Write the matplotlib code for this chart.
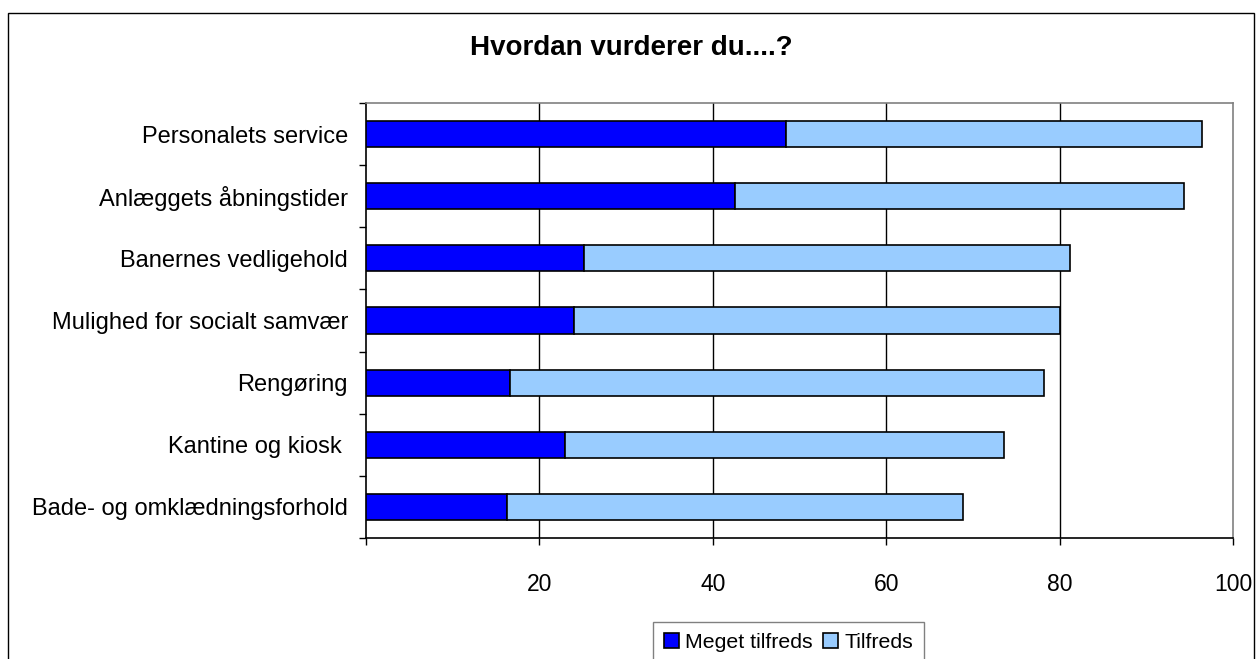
import matplotlib
matplotlib.use("Agg")
import matplotlib.pyplot as plt
from matplotlib.patches import Rectangle
from matplotlib.ticker import FixedLocator, NullFormatter

plt.rcParams['font.family'] = ['Liberation Sans', 'DejaVu Sans']

title = "Hvordan vurderer du....?"
categories = ["Personalets service", "Anlæggets åbningstider", "Banernes vedligehold",
              "Mulighed for socialt samvær", "Rengøring", "Kantine og kiosk ",
              "Bade- og omklædningsforhold"]
meget_tilfreds = [48.4, 42.6, 25.1, 24.0, 16.6, 22.9, 16.3]
tilfreds = [48.0, 51.7, 56.1, 56.1, 61.6, 50.7, 52.6]
series_names = ["Meget tilfreds", "Tilfreds"]
colors = ["#0000FF", "#99CCFF"]
x_ticks = [0, 20, 40, 60, 80, 100]
x_ticklabels = ["", "20", "40", "60", "80", "100"]

W, H = 1256, 659
fig = plt.figure(figsize=(W / 100, H / 100), dpi=100)

# outer chart border
fig.add_artist(Rectangle((8 / W, -0.1), (1254 - 8) / W, 1.1 - 13 / H,
                         transform=fig.transFigure, fill=False, edgecolor='black',
                         linewidth=1.0))

ax = fig.add_axes([366 / W, 1 - 538 / H, (1233 - 366) / W, (538 - 103) / H])

y = list(range(len(categories)))
ax.barh(y, meget_tilfreds, height=0.42, color=colors[0], edgecolor='black',
        linewidth=1.2, label=series_names[0], zorder=3)
ax.barh(y, tilfreds, left=meget_tilfreds, height=0.42, color=colors[1],
        edgecolor='black', linewidth=1.2, label=series_names[1], zorder=3)

ax.set_xlim(0, 100)
ax.set_ylim(len(categories) - 0.5, -0.5)
ax.set_xticks(x_ticks)
ax.set_xticklabels(x_ticklabels)
ax.set_yticks(y)
ax.set_yticklabels(categories)
ax.yaxis.set_minor_locator(FixedLocator([i - 0.5 for i in range(len(categories) + 1)]))
ax.yaxis.set_minor_formatter(NullFormatter())
ax.tick_params(axis='y', which='major', length=0, pad=13, labelsize=17)
ax.tick_params(axis='y', which='minor', length=5, width=1, direction='out', color='black')
ax.tick_params(axis='x', which='major', length=5, width=1, direction='out', pad=20,
               labelsize=16.5)

for v in x_ticks[1:-1]:
    ax.axvline(v, color='black', linewidth=1.0, zorder=1)

ax.spines['left'].set_color('black')
ax.spines['bottom'].set_color('black')
ax.spines['top'].set_color('#808080')
ax.spines['right'].set_color('#808080')
for s in ax.spines.values():
    s.set_linewidth(1.2)

fig.text(0.503, 1 - 48 / H, title, ha='center', va='center', fontsize=20,
         fontweight='bold')

leg = fig.legend(loc='upper left', bbox_to_anchor=(653 / W, 1 - 622 / H),
                 ncol=2, fontsize=15.3, frameon=True, fancybox=False,
                 edgecolor='#606060', handlelength=0.7, handleheight=0.7,
                 handletextpad=0.3, columnspacing=0.5, borderpad=0.5,
                 borderaxespad=0)
leg.get_frame().set_linewidth(1.0)

fig.savefig("out.png", dpi=100)
